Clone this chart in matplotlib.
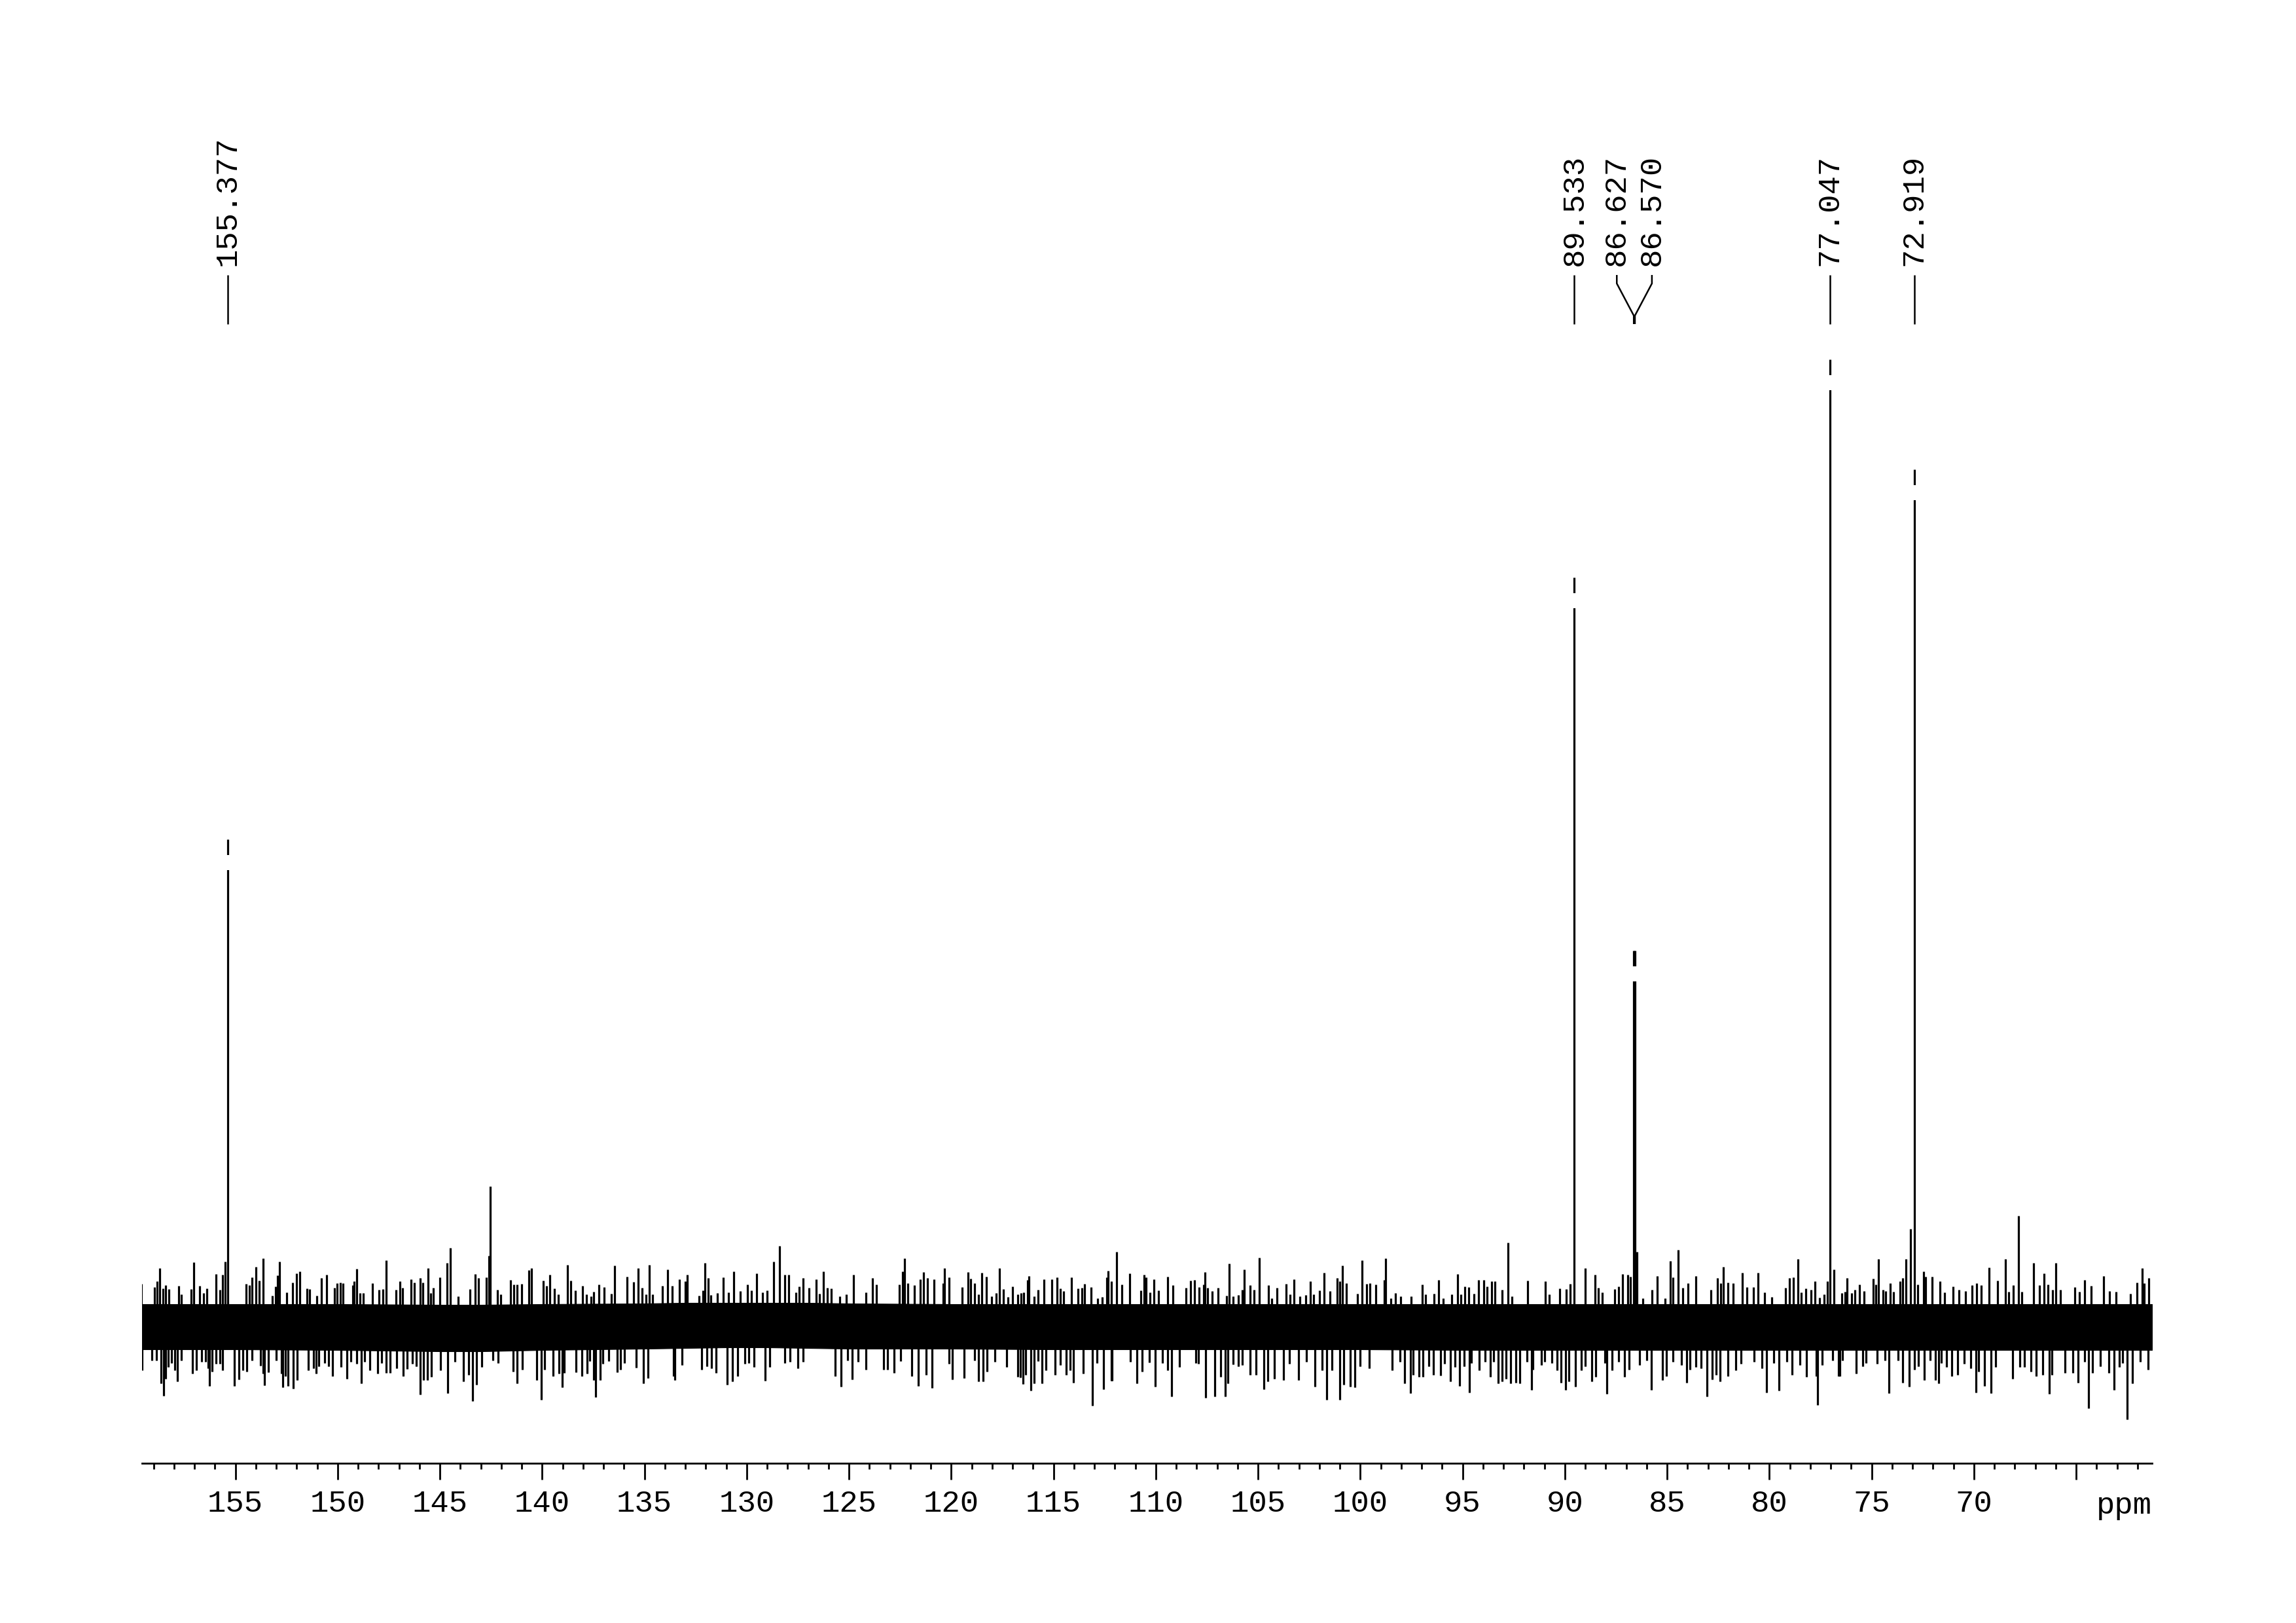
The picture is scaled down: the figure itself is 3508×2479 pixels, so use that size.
import matplotlib
matplotlib.use("Agg")
import matplotlib.pyplot as plt
import numpy as np

plt.rcParams['font.family'] = ['Liberation Mono', 'DejaVu Sans Mono']

# ---------------- data (ppm, intensity in arbitrary units) ----------------
peak_ppm = [155.377, 89.533, 86.627, 86.570, 77.047, 72.919]
peak_height = [746, 1146, 576, 576, 1479, 1311]
peak_labels = ["155.377", "89.533", "86.627", "86.570", "77.047", "72.919"]

minor_ppm = [142.55, 92.78, 67.81, 73.09, 86.46, 142.61]
minor_height = [216, 130, 171, 151, 116, 110]

# dense core of the baseline noise
env_ppm = [159.56, 155, 150, 145, 143, 140, 135, 133, 131, 129, 127, 125, 120,
           115, 110, 105, 100, 95, 90, 85, 80, 75, 70, 65, 61.29]
env_top = [36, 36, 36, 35, 35, 36, 37, 38, 38, 38, 38, 37, 36, 36, 36, 36, 36,
           36, 36, 36, 36, 36, 36, 36, 36]
env_bot = [-33, -33, -34, -36, -36, -34, -32, -31, -30, -30, -31, -32, -32, -33,
           -33, -33, -33, -34, -34, -34, -34, -34, -34, -34, -34]

# large noise spikes
up_ppm = [158.70, 157.04, 153.65, 152.84, 151.86, 149.05, 147.64, 145.59, 144.48,
          144.66, 143.28, 140.65, 140.52, 138.76, 136.46, 134.76, 133.85, 132.03,
          128.39, 128.68, 126.25, 124.78, 122.29, 122.37, 121.35, 120.33, 119.19,
          117.65, 118.50, 116.19, 111.91, 112.32, 111.27, 109.42, 107.59, 106.42,
          105.68, 104.94, 103.24, 101.78, 100.86, 99.91, 98.75, 95.24, 89.01,
          87.18, 84.45, 84.83, 82.24, 80.56, 78.60, 76.84, 76.19, 74.66, 73.33,
          72.46, 69.25, 68.46, 67.08, 66.57, 65.98, 63.65, 61.76, 61.44]
up_h = [91, 100, 106, 101, 86, 90, 103, 91, 122, 99, 82, 88, 91, 96, 95, 96, 89, 99,
        125, 101, 86, 81, 106, 86, 85, 91, 85, 91, 84, 79, 116, 87, 83, 78, 85, 98,
        89, 107, 74, 84, 95, 103, 106, 82, 91, 82, 119, 102, 93, 84, 105, 89, 76,
        105, 105, 86, 92, 105, 99, 83, 99, 79, 91, 76]
down_ppm = [158.51, 156.27, 155.05, 153.58, 152.67, 152.18, 148.84, 145.97, 144.61,
            143.40, 143.22, 141.24, 140.04, 139.02, 137.37, 135.06, 133.50, 130.96,
            130.69, 129.09, 125.40, 124.84, 121.61, 120.93, 116.50, 116.11, 113.10,
            112.17, 109.22, 107.57, 107.11, 106.59, 104.70, 102.22, 101.64, 101.00,
            100.28, 97.56, 94.65, 91.62, 89.96, 88.68, 87.96, 85.77, 83.04, 80.13,
            79.54, 77.63, 76.55, 74.16, 73.16, 71.73, 69.89, 69.15, 68.09, 66.30,
            64.39, 63.14, 62.49]
down_h = [-104, -89, -89, -88, -91, -93, -85, -102, -100, -112, -87, -85, -110, -91,
          -106, -85, -80, -87, -82, -81, -90, -79, -89, -92, -86, -96, -119, -81,
          -105, -107, -105, -105, -94, -90, -110, -110, -91, -100, -99, -95, -95,
          -82, -101, -95, -105, -99, -96, -118, -74, -100, -90, -85, -99, -100,
          -78, -101, -123, -95, -140]

# medium noise spikes (fringe of the noise band), (ppm, intensity)
fringe_up = [
    (159.59, 67), (158.94, 62), (158.81, 71), (158.55, 60), (158.42, 65), (158.25, 59),
    (157.76, 64), (157.63, 51), (157.17, 59), (156.74, 64), (156.55, 53), (156.39, 60),
    (155.93, 82), (155.76, 58), (155.63, 81), (155.50, 101), (154.46, 67), (154.30, 65),
    (154.17, 77), (154.00, 93), (153.84, 72), (153.19, 49), (153.02, 63), (152.93, 80),
    (152.50, 54), (152.21, 69), (152.02, 83), (151.49, 60), (151.36, 59), (151.01, 49),
    (150.80, 76), (150.55, 81), (150.15, 61), (150.02, 68), (149.86, 69), (149.73, 68),
    (149.27, 65), (149.18, 71), (148.92, 53), (148.75, 53), (148.29, 68), (147.97, 58),
    (147.80, 59), (147.14, 58), (146.96, 71), (146.83, 61), (146.40, 74), (146.24, 69),
    (145.97, 76), (145.84, 69), (145.46, 53), (145.32, 61), (144.99, 77), (144.11, 48),
    (143.53, 59), (143.10, 76), (142.72, 77), (142.18, 58), (142.02, 51), (141.54, 73),
    (141.37, 66), (141.24, 66), (141.00, 67), (139.94, 72), (139.80, 64), (139.61, 81),
    (139.41, 60), (139.20, 51), (138.59, 72), (138.37, 57), (138.03, 64), (137.84, 51),
    (137.61, 48), (137.48, 55), (137.24, 66), (136.98, 62), (136.63, 52), (135.85, 78),
    (135.52, 70), (135.32, 91), (135.10, 61), (134.93, 51), (134.60, 51), (134.11, 64),
    (133.63, 64), (133.30, 74), (133.01, 71), (132.91, 81), (132.32, 49), (132.15, 57),
    (131.89, 76), (131.76, 50), (131.43, 53), (131.14, 77), (130.88, 54), (130.62, 86),
    (130.30, 56), (129.97, 66), (129.77, 57), (129.51, 83), (129.22, 54), (128.99, 57),
    (128.14, 81), (127.94, 81), (127.59, 54), (127.42, 63), (127.23, 76), (126.96, 61),
    (126.61, 74), (126.44, 52), (126.05, 61), (125.85, 60), (125.46, 48), (125.14, 51),
    (124.18, 54), (123.86, 76), (123.66, 66), (122.55, 66), (122.13, 68), (121.81, 65),
    (121.52, 74), (121.15, 76), (120.85, 74), (120.40, 68), (120.11, 77), (119.45, 62),
    (119.04, 75), (118.87, 68), (118.67, 51), (118.28, 78), (118.04, 48), (117.81, 53),
    (117.46, 59), (117.23, 47), (117.00, 63), (116.74, 51), (116.58, 53), (116.45, 54),
    (116.28, 73), (115.95, 48), (115.76, 58), (115.48, 74), (115.09, 74), (114.84, 77),
    (114.65, 60), (114.52, 56), (114.13, 77), (113.80, 60), (113.60, 61), (113.47, 67),
    (113.15, 62), (112.85, 45), (112.62, 47), (112.40, 77), (112.17, 71), (111.67, 66),
    (110.73, 57), (110.57, 81), (110.47, 77), (110.27, 54), (110.10, 74), (109.88, 57),
    (109.16, 65), (108.51, 61), (108.31, 72), (108.12, 73), (107.88, 62), (107.66, 66),
    (107.46, 61), (107.24, 56), (106.94, 61), (106.55, 49), (106.22, 48), (105.96, 50),
    (105.77, 58), (105.38, 65), (105.18, 58), (104.49, 65), (104.33, 45), (104.07, 61),
    (103.61, 67), (103.44, 51), (102.96, 48), (102.66, 50), (102.44, 71), (102.27, 51),
    (101.98, 57), (101.48, 56), (101.13, 76), (101.00, 71), (100.67, 68), (100.15, 52),
    (99.69, 67), (99.52, 68), (99.23, 66), (98.84, 73), (98.52, 45), (98.28, 53),
    (98.02, 48), (97.50, 48), (96.98, 66), (96.81, 51), (96.39, 52), (96.18, 73),
    (95.93, 45), (95.54, 51), (95.08, 51), (94.89, 63), (94.69, 62), (94.43, 52),
    (94.23, 73), (93.97, 73), (93.80, 63), (93.58, 71), (93.41, 71), (93.06, 58),
    (92.60, 48), (91.82, 72), (90.94, 71), (90.75, 51), (90.25, 60), (89.92, 59),
    (89.73, 67), (88.52, 81), (88.36, 61), (88.16, 54), (87.57, 59), (87.38, 63),
    (86.92, 81), (86.79, 78), (86.20, 45), (85.74, 58), (85.48, 79), (85.09, 45),
    (84.70, 77), (84.24, 61), (83.98, 68), (83.59, 79), (82.87, 58), (82.54, 76),
    (82.38, 68), (82.02, 69), (81.78, 68), (81.33, 84), (81.11, 62), (80.78, 62),
    (80.22, 54), (79.87, 47), (79.21, 61), (79.02, 76), (78.82, 77), (78.43, 54),
    (78.23, 60), (77.97, 58), (77.78, 71), (77.54, 46), (77.33, 51), (77.16, 71),
    (76.46, 53), (76.30, 55), (75.97, 53), (75.81, 58), (75.60, 66), (75.36, 56),
    (74.93, 75), (74.79, 66), (74.43, 58), (74.30, 56), (74.08, 68), (73.92, 55),
    (73.60, 71), (73.49, 76), (72.73, 66), (72.35, 78), (72.03, 78), (71.65, 71),
    (71.44, 54), (71.03, 63), (70.73, 58), (70.41, 56), (70.08, 65), (69.87, 68),
    (69.65, 65), (68.84, 72), (68.30, 55), (68.08, 65), (67.65, 55), (66.79, 65),
    (66.39, 66), (66.14, 58), (65.76, 58), (65.06, 62), (64.84, 55), (64.57, 73),
    (64.25, 64), (63.38, 56), (63.06, 55), (62.35, 52), (62.03, 69), (61.67, 68)]
fringe_down = [
    (159.55, -65), (159.07, -50), (158.87, -50), (158.64, -85), (158.42, -78),
    (158.29, -60), (158.12, -54), (157.96, -65), (157.83, -82), (157.63, -50),
    (157.11, -70), (156.91, -65), (156.65, -52), (156.46, -52), (156.33, -62),
    (156.13, -67), (155.93, -55), (155.74, -55), (155.61, -65), (154.82, -79),
    (154.63, -65), (154.43, -67), (154.17, -50), (153.78, -58), (153.65, -70),
    (153.39, -68), (153.00, -50), (152.74, -70), (152.54, -74), (152.41, -89),
    (151.98, -80), (151.43, -65), (151.17, -62), (151.04, -70), (150.91, -59),
    (150.64, -54), (150.45, -59), (150.25, -74), (149.84, -60), (149.54, -78),
    (149.34, -52), (149.08, -55), (148.69, -52), (148.42, -65), (148.03, -70),
    (147.84, -54), (147.64, -69), (147.44, -69), (147.12, -62), (146.79, -74),
    (146.59, -63), (146.34, -55), (146.14, -59), (145.81, -80), (145.62, -80),
    (145.42, -75), (144.96, -65), (144.25, -52), (143.85, -82), (143.59, -72),
    (142.94, -60), (142.41, -50), (142.15, -54), (141.41, -67), (140.98, -64),
    (140.26, -80), (139.87, -64), (139.48, -74), (139.18, -70), (138.91, -69),
    (138.33, -68), (138.07, -74), (137.80, -70), (137.67, -51), (137.48, -80),
    (137.15, -80), (137.02, -55), (136.76, -51), (136.33, -68), (136.17, -64),
    (135.98, -54), (135.39, -61), (134.83, -77), (133.59, -74), (133.17, -57),
    (132.19, -64), (131.93, -59), (131.73, -62), (131.50, -69), (130.43, -74),
    (130.10, -55), (129.90, -54), (129.64, -60), (128.86, -60), (128.14, -54),
    (127.88, -52), (127.49, -62), (127.23, -52), (125.66, -74), (125.07, -50),
    (124.55, -52), (124.18, -64), (123.31, -64), (123.11, -64), (122.79, -69),
    (122.46, -51), (121.94, -74), (121.24, -72), (120.11, -55), (119.94, -79),
    (119.36, -77), (118.87, -50), (118.67, -82), (118.43, -82), (118.24, -67),
    (117.85, -52), (117.29, -60), (116.76, -75), (116.63, -76), (116.37, -72),
    (115.95, -85), (115.76, -51), (115.56, -85), (115.37, -65), (114.91, -72),
    (114.65, -57), (114.39, -72), (114.19, -65), (114.03, -84), (113.56, -70),
    (112.88, -54), (112.56, -94), (112.14, -81), (111.25, -52), (110.93, -85),
    (110.66, -67), (110.31, -53), (110.01, -90), (109.68, -54), (109.42, -65),
    (108.84, -60), (108.05, -54), (107.92, -55), (106.81, -75), (106.48, -85),
    (106.22, -56), (105.96, -59), (105.77, -57), (105.38, -72), (105.09, -72),
    (104.53, -82), (104.20, -78), (103.74, -80), (103.48, -55), (103.02, -80),
    (102.63, -52), (101.85, -65), (101.39, -65), (100.80, -87), (100.48, -90),
    (100.02, -59), (99.56, -62), (98.45, -65), (98.06, -52), (97.82, -85),
    (97.43, -72), (97.14, -75), (96.94, -75), (96.65, -59), (96.41, -72),
    (96.06, -73), (95.87, -55), (95.58, -82), (95.37, -60), (95.15, -89),
    (94.92, -59), (94.56, -54), (94.19, -65), (93.91, -52), (93.65, -75),
    (93.49, -52), (93.25, -85), (93.06, -82), (92.86, -78), (92.66, -85),
    (92.40, -84), (92.21, -85), (91.84, -52), (91.55, -64), (91.16, -57),
    (90.97, -52), (90.64, -54), (90.38, -65), (90.18, -84), (89.79, -82),
    (89.47, -90), (89.20, -65), (89.01, -59), (88.49, -75), (88.03, -54),
    (87.70, -65), (87.38, -52), (87.09, -75), (86.85, -64), (86.33, -57),
    (86.00, -50), (85.22, -80), (85.03, -74), (84.70, -52), (84.31, -57),
    (84.05, -84), (83.87, -64), (83.59, -60), (83.33, -62), (82.80, -79),
    (82.61, -72), (82.41, -82), (82.02, -74), (81.63, -65), (81.37, -55),
    (80.74, -52), (80.35, -62), (79.80, -54), (79.15, -52), (78.89, -72),
    (78.50, -57), (78.17, -75), (77.70, -74), (77.43, -57), (76.89, -50),
    (76.62, -74), (76.41, -50), (75.76, -70), (75.44, -59), (75.27, -54),
    (74.73, -55), (74.35, -50), (73.70, -50), (73.49, -84), (72.89, -64),
    (72.70, -59), (72.41, -80), (72.14, -50), (71.87, -80), (71.60, -54),
    (71.33, -60), (71.08, -74), (70.79, -72), (70.46, -55), (70.14, -62),
    (69.76, -67), (69.49, -89), (68.95, -60), (67.76, -60), (67.54, -60),
    (67.22, -67), (66.95, -74), (66.62, -72), (66.19, -72), (65.54, -69),
    (65.16, -69), (64.89, -84), (64.57, -52), (64.19, -69), (63.81, -59),
    (63.40, -69), (62.89, -60), (62.73, -54), (62.24, -85), (61.87, -52),
    (61.49, -64)]

major_ticks = [155, 150, 145, 140, 135, 130, 125, 120, 115, 110, 105, 100, 95, 90,
               85, 80, 75, 70, 65]
major_labels = ["155", "150", "145", "140", "135", "130", "125", "120", "115", "110",
                "105", "100", "95", "90", "85", "80", "75", "70", ""]
minor_ticks = list(range(159, 61, -1))
x_range = (159.56, 61.29)

# ---------------- figure ----------------
W, H = 3508, 2479
fig = plt.figure(figsize=(W / 100, H / 100), dpi=100)
ax_left, ax_right, ax_bottom = 217, 3288, 2235
ax = fig.add_axes([ax_left / W, (H - ax_bottom) / H, (ax_right - ax_left) / W, ax_bottom / H])
base_px = 2028
ax.set_xlim(*x_range)
ax.set_ylim(base_px - ax_bottom, base_px)

lw = 2.3
fu_ppm, fu_h = zip(*fringe_up)
fd_ppm, fd_h = zip(*fringe_down)
ax.fill_between(env_ppm, env_bot, env_top, color='black', linewidth=0.8)
ax.vlines(fu_ppm, 0, fu_h, color='black', lw=lw)
ax.vlines(fd_ppm, fd_h, 0, color='black', lw=lw)
ax.vlines(up_ppm, 0, up_h, color='black', lw=lw)
ax.vlines(down_ppm, down_h, 0, color='black', lw=lw)
ax.vlines(minor_ppm, 0, minor_height, color='black', lw=lw)
ph = np.array(peak_height, dtype=float)
ax.vlines(peak_ppm, 0, ph, color='black', lw=2.3)
# small break just below each peak top
ax.vlines(peak_ppm, ph - 47, ph - 24, color='white', lw=4.5)

# peak labels
offsets = [0, 0, 0.83, -0.83, 0, 0]
y_line_top, y_knee1, y_knee2, y_line_bot = 1608, 1595, 1546, 1533
for p, lab, off in zip(peak_ppm, peak_labels, offsets):
    xl = p + off
    ax.plot([xl, xl, p, p], [y_line_top, y_knee1, y_knee2, y_line_bot],
            color='black', lw=1.8, solid_capstyle='butt', clip_on=False)
    ax.text(xl, 1622, lab, rotation=90, ha='center', va='bottom', fontsize=34,
            color='black', clip_on=False)

# axes styling
for s in ['top', 'right', 'left']:
    ax.spines[s].set_visible(False)
ax.spines['bottom'].set_linewidth(2.0)
ax.set_yticks([])
ax.set_xticks(major_ticks)
ax.set_xticklabels(major_labels)
ax.set_xticks(minor_ticks, minor=True)
ax.tick_params(axis='x', which='major', direction='out', length=18, width=2,
               pad=11, labelsize=34)
ax.tick_params(axis='x', which='minor', direction='out', length=6.5, width=2)
ax.text(x_range[1], base_px - 2312, 'ppm', ha='right', va='baseline', fontsize=34,
        clip_on=False)
ax.patch.set_alpha(0)

fig.savefig('out.png', dpi=100, facecolor='white')
